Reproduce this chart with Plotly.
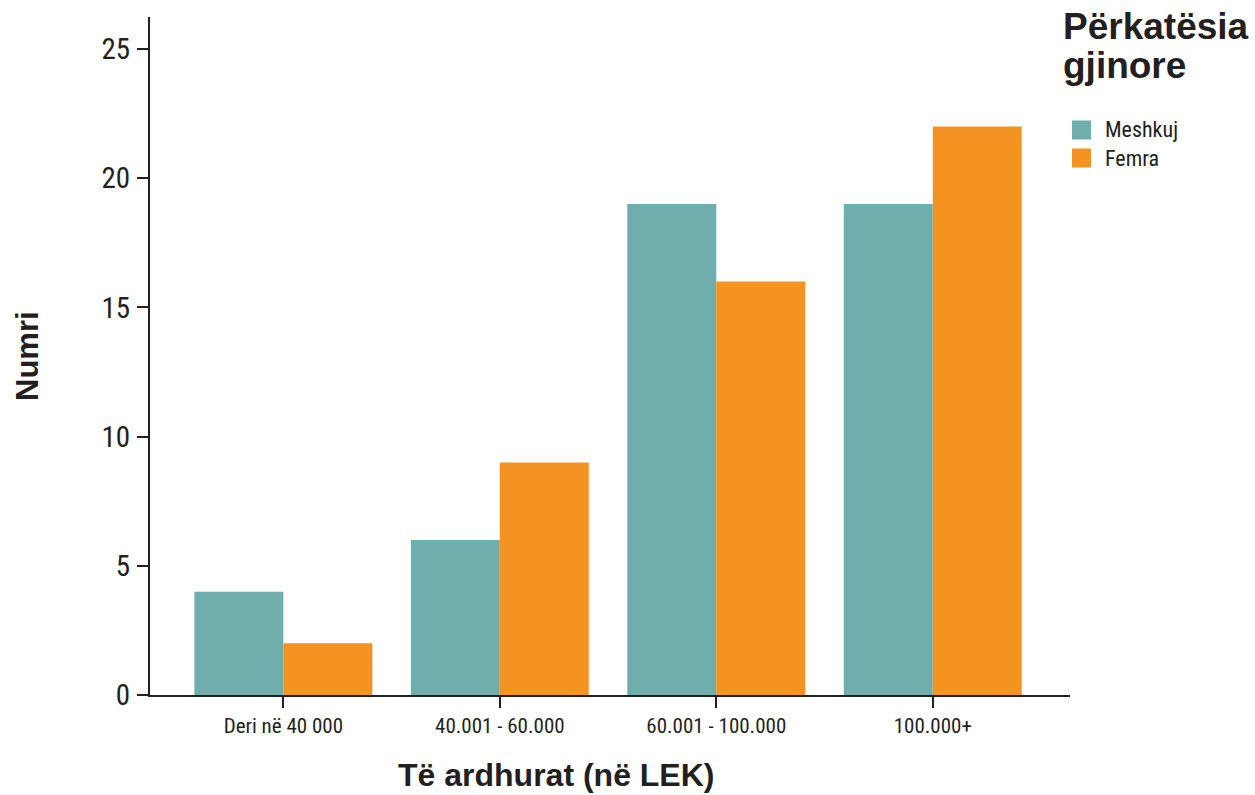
import plotly.graph_objects as go

# Income brackets and counts per gender
categories = ["Deri në 40 000", "40.001 - 60.000", "60.001 - 100.000", "100.000+"]
meshkuj = [4, 6, 19, 19]
femra = [2, 9, 16, 22]
series_names = ["Meshkuj", "Femra"]
legend_title = ["Përkatësia", "gjinore"]
y_ticks = [0, 5, 10, 15, 20, 25]

TEAL = "#70AEAD"
ORANGE = "#F59322"
INK = "#231F20"
NARROW = "Liberation Sans Narrow, Roboto Condensed, Arial Narrow, sans-serif"
BOLD = "Liberation Sans, Arial, Helvetica, sans-serif"

# plot area in pixels
L, R, T, B = 150, 1070, 17, 695
PW, PH = R - L, B - T


def px(x):
    return (x - L) / PW


def py(y):
    return (B - y) / PH


fig = go.Figure()
fig.add_trace(go.Bar(x=categories, y=meshkuj, name=series_names[0],
                     marker=dict(color=TEAL, line=dict(width=0)), showlegend=False))
fig.add_trace(go.Bar(x=categories, y=femra, name=series_names[1],
                     marker=dict(color=ORANGE, line=dict(width=0)), showlegend=False))

fig.update_layout(
    width=1255, height=795,
    margin=dict(l=L, r=1255 - R, t=T, b=795 - B),
    paper_bgcolor="white", plot_bgcolor="white",
    barmode="group", bargap=0.178, bargroupgap=0,
    font=dict(family=NARROW, color=INK),
)
fig.update_xaxes(
    range=[-0.616, 3.634],
    showline=True, linecolor=INK, linewidth=2,
    ticks="outside", ticklen=11, tickwidth=2, tickcolor=INK,
    tickfont=dict(family=NARROW, size=21, color=INK),
    showgrid=False, zeroline=False,
)
fig.update_yaxes(
    range=[0, PH / 25.84], tickvals=y_ticks,
    showline=True, linecolor=INK, linewidth=2,
    ticks="outside", ticklen=11, tickwidth=2, tickcolor=INK,
    tickfont=dict(family=NARROW, size=29, color=INK),
    ticklabelstandoff=1,
    showgrid=False, zeroline=False,
)

# Axis titles
fig.add_annotation(text="<b>Të ardhurat (në LEK)</b>", xref="paper", yref="paper",
                   x=px(556), y=py(775), xanchor="center", yanchor="middle",
                   showarrow=False, font=dict(family=BOLD, size=32, color=INK))
fig.add_annotation(text="<b>Numri</b>", xref="paper", yref="paper",
                   x=px(27), y=0.5, xanchor="center", yanchor="middle", textangle=-90,
                   showarrow=False, font=dict(family=BOLD, size=31, color=INK))

# Legend drawn in the right margin
for i, line in enumerate(legend_title):
    fig.add_annotation(text=f"<b>{line}</b>", xref="paper", yref="paper",
                       x=px(1061), y=py(27 + i * 38), xanchor="left", yanchor="middle",
                       showarrow=False, font=dict(family=BOLD, size=37, color=INK))
for i, (name, col) in enumerate(zip(series_names, [TEAL, ORANGE])):
    cy = 130 + i * 28
    fig.add_shape(type="rect", xref="paper", yref="paper",
                  x0=px(1072), x1=px(1091), y0=py(cy - 9.5), y1=py(cy + 9.5),
                  fillcolor=col, line=dict(width=0))
    fig.add_annotation(text=name, xref="paper", yref="paper",
                       x=px(1103), y=py(cy), xanchor="left", yanchor="middle",
                       showarrow=False, font=dict(family=NARROW, size=22, color=INK))

fig.write_html("out.html")
